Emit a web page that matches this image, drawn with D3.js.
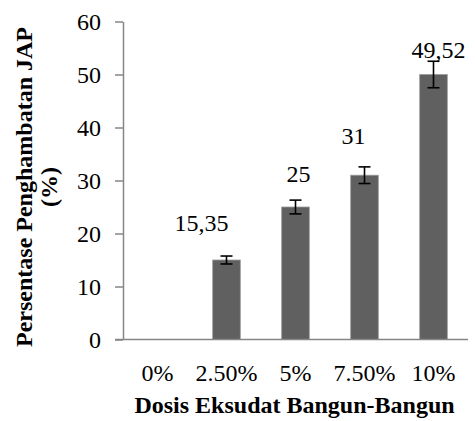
<!DOCTYPE html>
<html>
<head>
<meta charset="utf-8">
<script src="https://cdn.jsdelivr.net/npm/d3@7"></script>
<style>
  body { margin: 0; background: #fff; }
  svg text { font-family: "Liberation Serif", "Times New Roman", serif; }
</style>
</head>
<body>
<div id="chart"></div>
<script>
// data
const categories = ['0%', '2.50%', '5%', '7.50%', '10%'];
const values = [0, 15, 25, 31, 50];
const errors = [0, 0.75, 1.3, 1.57, 2.5];
const labels = ['', '15,35', '25', '31', '49,52'];
const yTicks = [0, 10, 20, 30, 40, 50, 60];

// where the value labels sit relative to the top of the error bar (px)
const labelNudge = [[0, 0], [-25, -25], [3, -18], [-11, -23], [5, -3]];

const width = 475;
const height = 421;
const margin = { top: 21.5, right: 7, bottom: 81.5, left: 123 };
const plotW = width - margin.left - margin.right;
const plotH = height - margin.top - margin.bottom;

const svg = d3.select('#chart')
  .append('svg')
  .attr('width', width)
  .attr('height', height);

const g = svg.append('g')
  .attr('transform', `translate(${margin.left},${margin.top})`);

const x = d3.scaleBand().domain(categories).range([0, plotW]).paddingInner(0.6).paddingOuter(0.3);
const y = d3.scaleLinear().domain([0, 60]).range([plotH, 0]);

// bars
g.selectAll('rect.bar')
  .data(values)
  .enter()
  .append('rect')
  .attr('class', 'bar')
  .attr('x', (d, i) => x(categories[i]))
  .attr('y', d => y(d))
  .attr('width', x.bandwidth())
  .attr('height', d => plotH - y(d))
  .attr('fill', '#606060')
  .attr('stroke', '#9a9a9a')
  .attr('stroke-width', 0.8);

// error bars
const cap = 6;
values.forEach((v, i) => {
  if (!errors[i]) return;
  const cx = x(categories[i]) + x.bandwidth() / 2;
  const e = g.append('g').attr('stroke', '#000').attr('stroke-width', 1.6);
  e.append('line').attr('x1', cx).attr('x2', cx).attr('y1', y(v - errors[i])).attr('y2', y(v + errors[i]));
  e.append('line').attr('x1', cx - cap).attr('x2', cx + cap).attr('y1', y(v - errors[i])).attr('y2', y(v - errors[i]));
  e.append('line').attr('x1', cx - cap).attr('x2', cx + cap).attr('y1', y(v + errors[i])).attr('y2', y(v + errors[i]));
});

// value labels
g.selectAll('text.val')
  .data(labels)
  .enter()
  .append('text')
  .attr('class', 'val')
  .attr('x', (d, i) => x(categories[i]) + x.bandwidth() / 2 + labelNudge[i][0])
  .attr('y', (d, i) => y(values[i] + errors[i]) + labelNudge[i][1])
  .attr('text-anchor', 'middle')
  .attr('font-size', 24)
  .attr('fill', '#000')
  .text(d => d);

// y axis
const yAxis = g.append('g')
  .call(d3.axisLeft(y).tickValues(yTicks).tickSize(8).tickSizeOuter(0).tickPadding(14));
yAxis.select('.domain').attr('stroke', '#868686').attr('stroke-width', 1.5);
yAxis.selectAll('.tick line').attr('stroke', '#868686').attr('stroke-width', 1.5);
yAxis.selectAll('.tick text').attr('font-size', 24).attr('fill', '#000').attr('dy', '0.33em');

// x axis
const xAxis = g.append('g')
  .attr('transform', `translate(0,${plotH})`)
  .call(d3.axisBottom(x).tickSize(0).tickPadding(24));
xAxis.select('.domain').remove();
xAxis.append('line')
  .attr('x1', -8).attr('x2', plotW)
  .attr('stroke', '#868686').attr('stroke-width', 1.5);
xAxis.selectAll('.tick text').attr('font-size', 24).attr('fill', '#000');

// axis titles
svg.append('text')
  .attr('x', margin.left + plotW / 2 - 1)
  .attr('y', 413)
  .attr('text-anchor', 'middle')
  .attr('font-size', 24)
  .attr('font-weight', 'bold')
  .text('Dosis Eksudat Bangun-Bangun');

const yt = svg.append('text')
  .attr('transform', 'translate(32,187) rotate(-90)')
  .attr('text-anchor', 'middle')
  .attr('font-size', 24)
  .attr('font-weight', 'bold');
yt.append('tspan').attr('x', 0).attr('y', 0).text('Persentase Penghambatan JAP');
yt.append('tspan').attr('x', 0).attr('y', 25).text('(%)');
</script>
</body>
</html>
